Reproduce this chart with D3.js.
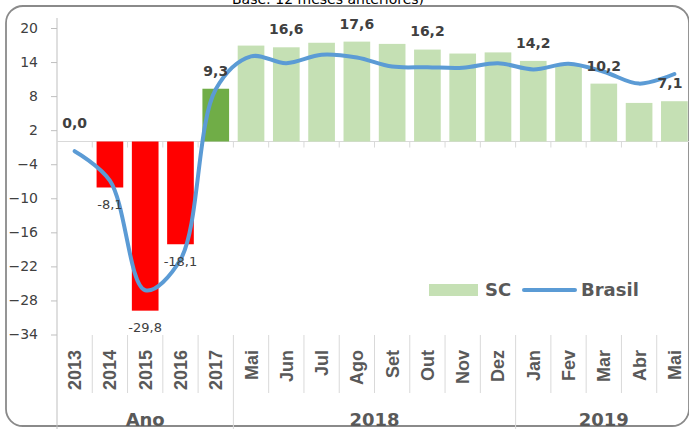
<!DOCTYPE html>
<html>
<head>
<meta charset="utf-8">
<script src="https://cdn.jsdelivr.net/npm/d3@7"></script>
<style>
  html, body { margin: 0; padding: 0; background: #ffffff; }
  svg { display: block; }
</style>
</head>
<body>
<svg id="chart" width="689" height="429"></svg>
<script>
// Category labels (inner level) and their group (outer level)
const categories = ["2013", "2014", "2015", "2016", "2017",
  "Mai", "Jun", "Jul", "Ago", "Set", "Out", "Nov", "Dez",
  "Jan", "Fev", "Mar", "Abr", "Mai"];
const groups = ["Ano", "Ano", "Ano", "Ano", "Ano",
  "2018", "2018", "2018", "2018", "2018", "2018", "2018", "2018",
  "2019", "2019", "2019", "2019", "2019"];

// Santa Catarina (bars) and Brasil (line), % change
const scValues = [0.0, -8.1, -29.8, -18.1, 9.3,
  16.9, 16.6, 17.4, 17.6, 17.2, 16.2, 15.5, 15.7,
  14.2, 13.6, 10.2, 6.8, 7.1];
const brasilValues = [-1.7, -6.9, -26.2, -20.8, 9.2,
  15.0, 13.8, 15.3, 14.8, 13.2, 13.1, 13.0, 13.8,
  12.7, 13.7, 12.3, 10.2, 11.9];

// Bars whose value is printed
const labelledIdx = [0, 1, 2, 3, 4, 6, 8, 10, 13, 15, 17];

const yTicks = [20, 14, 8, 2, -4, -10, -16, -22, -28, -34];
const titleText = "Base: 12 meses anteriores)";

const svg = d3.select("#chart");
const W = 689, H = 429;

const left = 57, right = 692;
const x = d3.scaleBand().domain(d3.range(categories.length)).range([left, right]).padding(0);
const y = d3.scaleLinear().domain([-34, 20]).range([334.5, 28]);
const bw = x.bandwidth();
const barW = bw * 0.756;
const cx = i => x(i) + bw / 2;

const ptBR = d3.formatLocale({ decimal: ",", thousands: ".", grouping: [3], currency: ["R$", ""], minus: "-" });
const fmt1 = ptBR.format(".1f");

const DV = "'DejaVu Sans', sans-serif";
const LS = "'Liberation Sans', Arial, sans-serif";

// Title line (top of the figure, partly above the page edge)
svg.append("text")
  .attr("x", 232).attr("y", 3.5)
  .attr("font-family", DV).attr("font-size", 14).attr("fill", "#000")
  .text(titleText);

// Rounded chart frame
svg.append("rect")
  .attr("x", 6).attr("y", 6).attr("width", 683).attr("height", 420)
  .attr("rx", 17).attr("ry", 17)
  .attr("fill", "none").attr("stroke", "#8a8a8a").attr("stroke-width", 1.8);

// Y axis
const yAxis = d3.axisLeft(y).tickValues(yTicks).tickSize(6).tickPadding(13).tickFormat(d3.format("d"));
const gy = svg.append("g").attr("transform", `translate(${left},0)`).call(yAxis);
gy.select(".domain").remove();
gy.selectAll(".tick line").attr("stroke", "#bfbfbf");
gy.selectAll(".tick text").attr("font-family", DV).attr("font-size", 14).attr("fill", "#404040");
svg.append("line")
  .attr("x1", left).attr("x2", left).attr("y1", 18).attr("y2", H)
  .attr("stroke", "#bfbfbf").attr("stroke-width", 1);

// Category axis on the zero line
const y0 = y(0);
svg.append("line")
  .attr("x1", left).attr("x2", right).attr("y1", y0).attr("y2", y0)
  .attr("stroke", "#d9d9d9").attr("stroke-width", 1);
const bounds = d3.range(1, categories.length + 1).map(i => left + i * bw);
svg.append("g").selectAll("line").data(bounds).join("line")
  .attr("x1", d => d).attr("x2", d => d).attr("y1", y0).attr("y2", y0 + 6)
  .attr("stroke", "#d9d9d9");

// Bars
const barColor = (v, i) => v < 0 ? "#ff0000" : (groups[i] === "Ano" ? "#70ad47" : "#c5e0b4");
svg.append("g").selectAll("rect").data(scValues).join("rect")
  .attr("x", (d, i) => x(i) + (bw - barW) / 2)
  .attr("width", barW)
  .attr("y", d => Math.min(y(d), y0))
  .attr("height", d => Math.abs(y(d) - y0))
  .attr("fill", (d, i) => barColor(d, i));

// Brasil line
const line = d3.line().x((d, i) => cx(i)).y(d => y(d)).curve(d3.curveCatmullRom);
svg.append("path").datum(brasilValues)
  .attr("d", line)
  .attr("fill", "none").attr("stroke", "#5b9bd5").attr("stroke-width", 4)
  .attr("stroke-linecap", "round").attr("stroke-linejoin", "round");

// Value labels
svg.append("g").selectAll("text").data(labelledIdx).join("text")
  .attr("x", i => Math.min(cx(i), 670))
  .attr("y", i => scValues[i] >= 0 ? y(scValues[i]) - 18 : y(scValues[i]) + 17)
  .attr("dy", "0.35em")
  .attr("text-anchor", "middle")
  .attr("font-family", DV)
  .attr("font-size", i => scValues[i] >= 0 ? 14 : 13)
  .attr("font-weight", i => scValues[i] >= 0 ? "bold" : "normal")
  .attr("fill", "#404040")
  .text(i => fmt1(scValues[i]));

// Multi-level category labels below the plot
const labTop = 335;
const groupNames = Array.from(new Set(groups));
const groupStart = groupNames.map(g => groups.indexOf(g));
const groupEnd = groupNames.map(g => groups.lastIndexOf(g));

svg.append("g").selectAll("line").data(bounds).join("line")
  .attr("x1", d => d).attr("x2", d => d)
  .attr("y1", labTop)
  .attr("y2", (d, k) => groupEnd.includes(k) ? H : 393)
  .attr("stroke", "#d9d9d9");

svg.append("g").selectAll("text").data(categories).join("text")
  .attr("transform", (d, i) => `translate(${cx(i)},350) rotate(-90)`)
  .attr("dy", "0.36em")
  .attr("text-anchor", "end")
  .attr("font-family", LS).attr("font-size", 18).attr("font-weight", "bold")
  .attr("fill", "#595959")
  .text(d => d);

svg.append("g").selectAll("text").data(groupNames).join("text")
  .attr("x", (g, k) => (x(groupStart[k]) + x(groupEnd[k]) + bw) / 2)
  .attr("y", 426)
  .attr("text-anchor", "middle")
  .attr("font-family", DV).attr("font-size", 18).attr("font-weight", "bold")
  .attr("fill", "#595959")
  .text(g => g);

// Legend
const lg = svg.append("g");
lg.append("rect").attr("x", 429).attr("y", 284).attr("width", 49).attr("height", 12).attr("fill", "#c5e0b4");
lg.append("text").attr("x", 485).attr("y", 290).attr("dy", "0.36em")
  .attr("font-family", DV).attr("font-size", 18).attr("font-weight", "bold").attr("fill", "#595959")
  .text("SC");
lg.append("line").attr("x1", 524).attr("x2", 575).attr("y1", 290).attr("y2", 290)
  .attr("stroke", "#5b9bd5").attr("stroke-width", 4).attr("stroke-linecap", "round");
lg.append("text").attr("x", 581).attr("y", 290).attr("dy", "0.36em")
  .attr("font-family", DV).attr("font-size", 18).attr("font-weight", "bold").attr("fill", "#595959")
  .text("Brasil");
</script>
</body>
</html>
